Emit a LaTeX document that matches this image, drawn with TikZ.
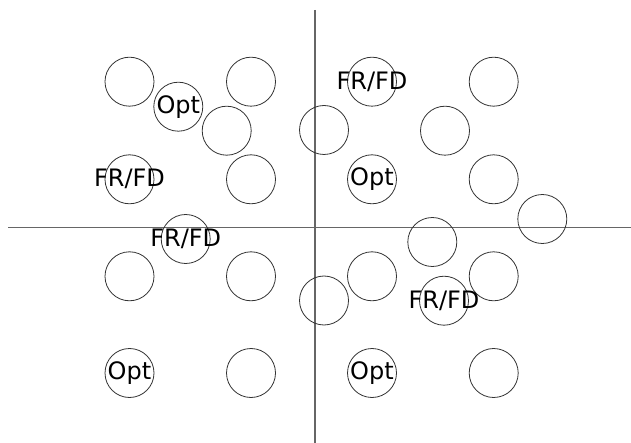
\documentclass[tikz,border=0pt]{standalone}
\usepackage{fontspec}
\setmainfont{DejaVu Sans}
\begin{document}
\begin{tikzpicture}[x=1pt,y=-1pt,
  cell/.style={circle,draw=black!80,line width=0.8pt,minimum size=49pt,inner sep=0pt},
  tag/.style={font=\fontsize{24}{27}\selectfont,text=black,inner sep=0pt},
  axis/.style={draw=black!60,line width=1.4pt}]
\useasboundingbox (0,0) rectangle (631,443);
% axes
\coordinate (xl) at (8,227.5);
\coordinate (xr) at (631,227.5);
\coordinate (yt) at (315,10);
\coordinate (yb) at (315,443);
\draw[axis] (xl) -- (xr);
\draw[axis] (yt) -- (yb);
% regular grid
\foreach \i/\x in {1/129.5,2/251,3/372,4/493.7}{
  \foreach \j/\y in {1/81.7,2/179.3,3/276.3,4/373}{
    \node[cell] (g\i\j) at (\x,\y) {};
  }
}
% offset circles
\node[cell] (o1) at (178.3,106.7) {};
\node[cell] (o2) at (226.7,130.7) {};
\node[cell] (o3) at (324,130) {};
\node[cell] (o4) at (445,130.7) {};
\node[cell] (o5) at (185.7,239) {};
\node[cell] (o6) at (432.3,242) {};
\node[cell] (o7) at (542.3,219) {};
\node[cell] (o8) at (324,300.5) {};
\node[cell] (o9) at (444,300.7) {};
% labels
\node[tag] (t1) at (o1) {Opt};
\node[tag] (t2) at (g31) {FR/FD};
\node[tag] (t3) at (g12) {FR/FD};
\node[tag] (t4) at (g32) {Opt};
\node[tag] (t5) at (o5) {FR/FD};
\node[tag] (t6) at (o9) {FR/FD};
\node[tag] (t7) at (g14) {Opt};
\node[tag] (t8) at (g34) {Opt};
\end{tikzpicture}
\end{document}
